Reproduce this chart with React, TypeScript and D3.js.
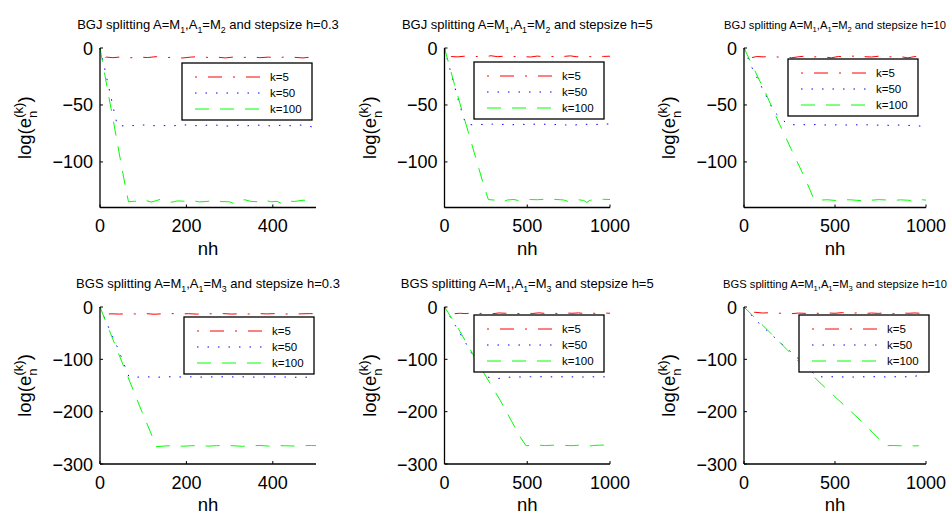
import React from "react";
import * as d3 from "d3";

type Pt = [number, number];

// ---------- data (nh, log error) ----------
const bgj03K5: Pt[] = [[0,0],[4,-6],[8,-9],[15,-8],[30,-8.5],[50,-7.8],[70,-8.6],[90,-8],[110,-8.4],[130,-7.6],[150,-8.5],[170,-8.1],[190,-8.8],[210,-8],[230,-7.5],[250,-8.3],[270,-8],[290,-8.7],[310,-7.9],[330,-8.4],[350,-7.7],[370,-8.5],[390,-8],[410,-8.6],[430,-7.8],[450,-8.2],[470,-8.7],[490,-7.9],[500,-8.1]];
const bgj03K50: Pt[] = [[0,0],[8,-13],[20,-34],[30,-51],[40,-68],[60,-68.5],[80,-68],[100,-67.6],[120,-68.3],[140,-67.8],[160,-68.5],[180,-68],[200,-67.5],[220,-68.2],[240,-68],[260,-67.4],[280,-68.1],[300,-68.6],[320,-67.8],[340,-68.3],[360,-67.6],[380,-68],[400,-68.5],[420,-67.8],[440,-68.2],[460,-67.5],[480,-68.4],[500,-70]];
const bgj03K100: Pt[] = [[0,0],[10,-21],[20,-42],[30,-62],[40,-83],[50,-104],[60,-124],[66,-135],[80,-134.5],[92,-135],[104,-133.5],[118,-135.2],[130,-134],[140,-132.8],[152,-133.6],[165,-135.4],[180,-134.2],[200,-134.6],[215,-134],[230,-135.1],[250,-134.6],[265,-133.4],[280,-134.8],[300,-135],[312,-136.8],[322,-134],[335,-133.2],[350,-134.7],[370,-135],[380,-133.2],[395,-135],[410,-134.6],[420,-136.5],[430,-134.3],[450,-134.7],[470,-133.6],[490,-133.8],[500,-134]];

const bgj5K5: Pt[] = [[0,0],[10,-6],[20,-8],[40,-7.5],[80,-7.8],[120,-7.2],[160,-7.8],[200,-7.4],[240,-7.9],[280,-6.8],[320,-7.6],[360,-7.2],[400,-7.8],[440,-7.3],[480,-7.6],[520,-7.9],[560,-7.1],[600,-7.6],[640,-7.3],[680,-7.8],[720,-7.4],[760,-6.9],[800,-7.7],[840,-7.2],[880,-7.6],[920,-7.1],[960,-7.4],[1000,-7.2]];
const bgj5K50: Pt[] = [[0,0],[30,-17],[80,-44],[115,-61],[130,-67],[170,-67.4],[210,-67],[250,-67.3],[290,-66.8],[330,-67.2],[370,-67],[410,-67.4],[450,-66.9],[490,-67.1],[530,-66.7],[570,-67.2],[610,-66.9],[650,-67.4],[690,-67],[730,-67.5],[770,-68],[810,-67.2],[850,-66.9],[890,-67.3],[930,-67],[970,-66.6],[1000,-66.8]];
const bgj5K100: Pt[] = [[0,0],[60,-32],[120,-62],[180,-92],[240,-122],[265,-133],[300,-133.5],[330,-133],[355,-135],[380,-133.4],[420,-133],[450,-134],[480,-133.6],[520,-133],[560,-133.2],[600,-132.8],[640,-132.6],[680,-133],[720,-133.4],[745,-134.6],[770,-133.2],[800,-133],[840,-133.8],[860,-135.5],[880,-133.6],[920,-133],[960,-132.8],[1000,-133]];

const bgj10K5: Pt[] = [[0,0],[20,-6],[40,-8.5],[70,-7.5],[110,-7.8],[150,-7.2],[190,-8],[230,-7.5],[260,-8.6],[300,-7.7],[330,-7.2],[360,-8.4],[400,-7.6],[440,-7.9],[480,-8.6],[520,-7.4],[560,-7.8],[600,-7.1],[630,-8.5],[660,-7.6],[700,-7.9],[740,-7.2],[780,-8.4],[820,-7.3],[860,-7.6],[900,-8.6],[940,-7.5],[980,-7.8],[1000,-8.8]];
const bgj10K50: Pt[] = [[0,0],[40,-16],[90,-32],[165,-56],[240,-67],[280,-67.4],[320,-67.2],[360,-67.6],[400,-67.1],[440,-67.5],[480,-67.8],[520,-67.3],[560,-67.6],[600,-67.2],[640,-67.7],[680,-67.4],[720,-67.8],[760,-67.5],[800,-67.9],[840,-67.6],[880,-67.8],[920,-68],[960,-68.4],[1000,-69]];
const bgj10K100: Pt[] = [[0,0],[60,-20],[120,-40],[190,-65],[260,-89],[340,-116],[385,-133],[420,-133.5],[460,-133.2],[500,-133.8],[540,-133.4],[580,-133.2],[620,-133.7],[660,-134.2],[700,-133.6],[740,-133.1],[780,-133.4],[820,-133.8],[860,-133.3],[900,-133.6],[940,-134],[980,-133.2],[1000,-133.5]];

const bgs03K5: Pt[] = [[0,0],[5,-10],[12,-14],[25,-13],[45,-13.5],[65,-12.8],[85,-13.4],[105,-12.6],[125,-13.8],[145,-13],[165,-12.5],[185,-13.3],[205,-12.8],[225,-13.6],[245,-12.7],[265,-13.2],[285,-12.6],[305,-13.5],[325,-12.9],[345,-13.4],[365,-12.5],[385,-13.2],[405,-12.7],[425,-13.6],[445,-12.9],[465,-13.1],[485,-12.6],[500,-13]];
const bgs03K50: Pt[] = [[0,0],[14,-28],[42,-80],[67,-133],[90,-134],[110,-133.5],[130,-134.2],[150,-133.6],[170,-133.2],[190,-133.8],[210,-133.4],[230,-134],[250,-133.5],[270,-133.8],[290,-133.2],[310,-133.7],[330,-133.4],[350,-134],[370,-133.6],[390,-133.9],[410,-133.5],[430,-133.8],[450,-134.2],[470,-134],[490,-134.4],[500,-134.5]];
const bgs03K100: Pt[] = [[0,0],[30,-62],[60,-124],[95,-196],[131,-267],[150,-265.5],[170,-265],[190,-266],[210,-265.2],[230,-264.6],[250,-265.8],[270,-265],[290,-264.5],[310,-265.2],[330,-266.2],[350,-265],[370,-264.6],[390,-265.8],[410,-264.8],[430,-265.2],[450,-265.6],[470,-264.8],[490,-264.6],[500,-265]];

const bgs5K5: Pt[] = [[0,0],[25,-10],[50,-13],[90,-12],[130,-12.6],[170,-11.2],[210,-12.4],[250,-11.6],[290,-12.8],[330,-11.4],[370,-12],[410,-11.2],[450,-12.6],[490,-11.8],[530,-12.4],[570,-11.2],[610,-12.2],[650,-11.6],[690,-12.6],[730,-11.4],[770,-12],[810,-11.3],[850,-12.5],[890,-11.8],[930,-12.2],[970,-11.6],[1000,-12]];
const bgs5K50: Pt[] = [[0,0],[65,-35],[125,-67],[180,-97],[240,-133],[280,-135],[320,-137],[360,-134.5],[400,-134],[440,-133.5],[480,-134],[520,-133.2],[560,-133.6],[600,-133],[640,-133.4],[680,-133.8],[720,-133.2],[760,-133.6],[800,-133.4],[840,-133.8],[880,-133.2],[920,-133.6],[960,-133.4],[1000,-134]];
const bgs5K100: Pt[] = [[0,0],[85,-42],[200,-106],[336,-178],[457,-248],[492,-265],[530,-264.4],[570,-264],[610,-264.8],[650,-264.2],[690,-263.6],[730,-264.6],[770,-265],[810,-264.2],[850,-265.6],[870,-266.2],[900,-264.6],[940,-264],[980,-263.8],[1000,-264]];

const bgs10K5: Pt[] = [[0,0],[30,-12],[60,-10],[100,-11.5],[140,-11],[180,-12.5],[220,-11.2],[260,-12.8],[300,-11.6],[340,-12.2],[380,-11],[420,-12.6],[460,-11.4],[500,-12],[540,-10.8],[580,-12.4],[620,-11.2],[660,-12.6],[700,-11.5],[740,-12.2],[780,-10.8],[820,-12.4],[860,-11.2],[900,-12],[940,-11.4],[980,-12.2],[1000,-11.8]];
const bgs10K50: Pt[] = [[0,0],[73,-28],[158,-55],[281,-93],[400,-133],[440,-133.6],[480,-133.2],[520,-134],[560,-133.4],[600,-133.8],[640,-133.2],[680,-133.6],[720,-133.1],[760,-133.5],[800,-133.8],[840,-133.2],[880,-133.5],[920,-132.6],[960,-131.5],[1000,-131]];
const bgs10K100: Pt[] = [[0,0],[106,-36],[235,-81],[418,-145],[638,-216],[748,-254],[785,-265],[820,-264.6],[860,-265.2],[900,-264.8],[940,-265.4],[960,-265]];

const seriesLabels = ["k=5", "k=50", "k=100"];
const xTicks500 = [0, 200, 400];
const xTicks1000 = [0, 500, 1000];
const yTicksTop = [0, -50, -100];
const yTicksBottom = [0, -100, -200, -300];
const methods = ["BGJ", "BGS"];
const stepsizes = ["0.3", "5", "10"];

// ---------- styles ----------
const FONT = "'Liberation Sans', Arial, Helvetica, sans-serif";
const seriesStyle = [
  { color: "#ff0000", dash: "2,11,14,11" },
  { color: "#0000ff", dash: "1.5,9" },
  { color: "#00ff00", dash: "14,11" },
];

type Panel = {
  method: string; a1: string; h: string;
  left: number; right: number; top: number; bottom: number;
  xMax: number; yMin: number; xTicks: number[]; yTicks: number[];
  series: Pt[][]; legend: [number, number]; titleSize: number;
};

const rowTop = { top: 48, bottom: 207.5 };
const rowBot = { top: 307, bottom: 464 };
const cols = [
  { left: 100, right: 316 },
  { left: 444.5, right: 610 },
  { left: 744, right: 926 },
];

const panels: Panel[] = [
  { method: methods[0], a1: "2", h: stepsizes[0], ...cols[0], ...rowTop, xMax: 500, yMin: -140, xTicks: xTicks500, yTicks: yTicksTop, series: [bgj03K5, bgj03K50, bgj03K100], legend: [182, 63], titleSize: 13 },
  { method: methods[0], a1: "2", h: stepsizes[1], ...cols[1], ...rowTop, xMax: 1000, yMin: -140, xTicks: xTicks1000, yTicks: yTicksTop, series: [bgj5K5, bgj5K50, bgj5K100], legend: [474, 62], titleSize: 13 },
  { method: methods[0], a1: "2", h: stepsizes[2], ...cols[2], ...rowTop, xMax: 1000, yMin: -140, xTicks: xTicks1000, yTicks: yTicksTop, series: [bgj10K5, bgj10K50, bgj10K100], legend: [788, 59], titleSize: 11.2 },
  { method: methods[1], a1: "3", h: stepsizes[0], ...cols[0], ...rowBot, xMax: 500, yMin: -300, xTicks: xTicks500, yTicks: yTicksBottom, series: [bgs03K5, bgs03K50, bgs03K100], legend: [184, 317], titleSize: 13 },
  { method: methods[1], a1: "3", h: stepsizes[1], ...cols[1], ...rowBot, xMax: 1000, yMin: -300, xTicks: xTicks1000, yTicks: yTicksBottom, series: [bgs5K5, bgs5K50, bgs5K100], legend: [474, 315], titleSize: 13 },
  { method: methods[1], a1: "3", h: stepsizes[2], ...cols[2], ...rowBot, xMax: 1000, yMin: -300, xTicks: xTicks1000, yTicks: yTicksBottom, series: [bgs10K5, bgs10K50, bgs10K100], legend: [799, 315], titleSize: 11.2 },
];

const fmt = (v: number) => (v < 0 ? "\u2212" + Math.abs(v) : String(v));

function PanelView({ p }: { p: Panel }) {
  const x = d3.scaleLinear().domain([0, p.xMax]).range([p.left, p.right]);
  const y = d3.scaleLinear().domain([p.yMin, 0]).range([p.bottom, p.top]);
  const line = d3.line<Pt>().x((d) => x(d[0])).y((d) => y(d[1]));
  const cx = (p.left + p.right) / 2;
  const cy = (p.top + p.bottom) / 2;
  const ts = p.titleSize;
  const sub = ts * 0.68;
  const [lx, ly] = p.legend;
  return (
    <g>
      {/* title */}
      <text x={cx} y={p.top - 19} textAnchor="middle" fontFamily={FONT} fontSize={ts} fill="#000">
        {p.method} splitting A=M
        <tspan fontSize={sub} dy={ts * 0.3}>1</tspan>
        <tspan dy={-ts * 0.3}>,A</tspan>
        <tspan fontSize={sub} dy={ts * 0.3}>1</tspan>
        <tspan dy={-ts * 0.3}>=M</tspan>
        <tspan fontSize={sub} dy={ts * 0.3}>{p.a1}</tspan>
        <tspan dy={-ts * 0.3}> and stepsize h={p.h}</tspan>
      </text>
      {/* series */}
      {p.series.map((s, i) => (
        <path key={i} d={line(s) || ""} fill="none" stroke={seriesStyle[i].color}
          strokeWidth={1} strokeDasharray={seriesStyle[i].dash} />
      ))}
      {/* axes */}
      <line x1={p.left} x2={p.right} y1={p.bottom} y2={p.bottom} stroke="#000" strokeWidth={1.3} />
      <line x1={p.left} x2={p.left} y1={p.top} y2={p.bottom} stroke="#000" strokeWidth={1.3} />
      {p.xTicks.map((t) => (
        <g key={"x" + t}>
          <line x1={x(t)} x2={x(t)} y1={p.bottom} y2={p.bottom - 3} stroke="#000" strokeWidth={1} />
          <text x={x(t)} y={p.bottom + 24.5} textAnchor="middle" fontFamily={FONT} fontSize={18}>{fmt(t)}</text>
        </g>
      ))}
      {p.yTicks.map((t) => (
        <g key={"y" + t}>
          <line x1={p.left} x2={p.left + 3} y1={y(t)} y2={y(t)} stroke="#000" strokeWidth={1} />
          <text x={p.left - 7} y={y(t) + 6.5} textAnchor="end" fontFamily={FONT} fontSize={18}>{fmt(t)}</text>
        </g>
      ))}
      {/* x label */}
      <text x={cx} y={p.bottom + 47} textAnchor="middle" fontFamily={FONT} fontSize={18.5}>nh</text>
      {/* y label */}
      <g transform={`translate(${p.left - 69},${cy}) rotate(-90)`}>
        <text x={0} y={0} textAnchor="middle" fontFamily={FONT} fontSize={18.5}>
          log(e
          <tspan fontSize={13} dy={6}>n</tspan>
          <tspan fontSize={13} dx={-7} dy={-14}>(k)</tspan>
          <tspan dy={8}>)</tspan>
        </text>
      </g>
      {/* legend */}
      <rect x={lx} y={ly} width={130} height={57} fill="#fff" stroke="#000" strokeWidth={1.3} />
      {seriesLabels.map((lab, i) => (
        <g key={lab}>
          <line x1={lx + 13} x2={lx + 81} y1={ly + 14 + i * 16} y2={ly + 14 + i * 16}
            stroke={seriesStyle[i].color} strokeWidth={1} strokeDasharray={seriesStyle[i].dash} />
          <text x={lx + 88} y={ly + 14 + i * 16 + 4} fontFamily={FONT} fontSize={11.5}>{lab}</text>
        </g>
      ))}
    </g>
  );
}

export default function App() {
  return (
    <svg width={952} height={514} style={{ position: "absolute", left: 0, top: 0, background: "#fff" }}>
      <rect x={0} y={0} width={952} height={514} fill="#fff" />
      {panels.map((p, i) => <PanelView key={i} p={p} />)}
    </svg>
  );
}
